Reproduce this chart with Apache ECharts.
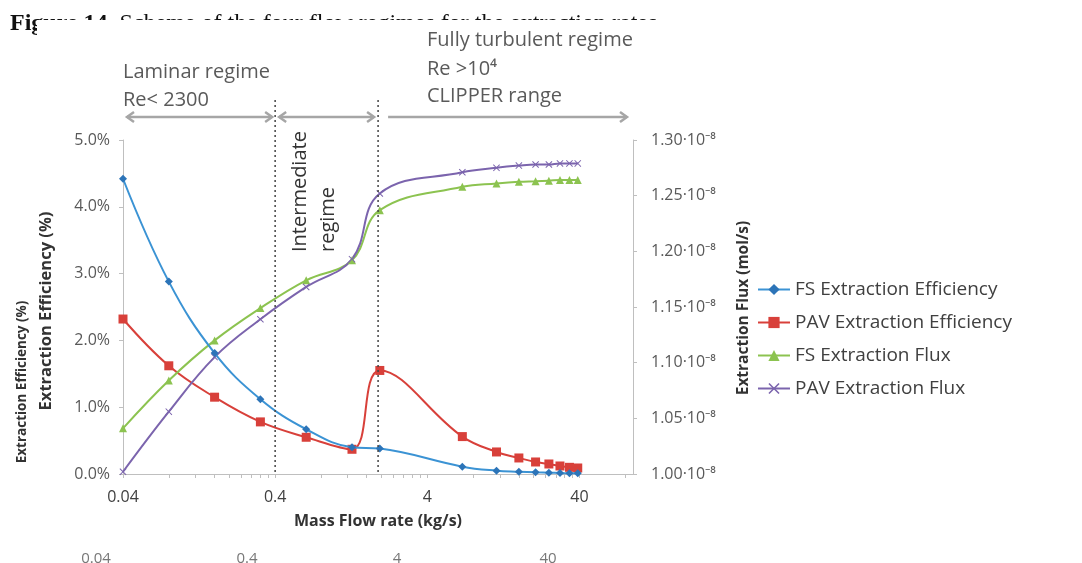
<!DOCTYPE html>
<html>
<head>
<meta charset="utf-8">
<script src="https://cdn.jsdelivr.net/npm/echarts@6/dist/echarts.min.js"></script>
<style>
html, body { margin: 0; padding: 0; background: #fff; }
#chart1 { width: 1082px; height: 563px; }
</style>
</head>
<body>
<div id="chart1"></div>
<script>
// mass flow rate of each point (kg/s)
var massFlow = [0.04, 0.08, 0.16, 0.32, 0.64, 1.28, 1.95, 6.8, 11.4, 16, 20.6, 25.2, 29.8, 34.4, 39];
// extraction efficiency (%)
var fsEff  = [4.42, 2.88, 1.81, 1.12, 0.67, 0.40, 0.38, 0.11, 0.05, 0.035, 0.025, 0.02, 0.015, 0.01, 0.01];
var pavEff = [2.32, 1.62, 1.15, 0.78, 0.55, 0.37, 1.55, 0.56, 0.33, 0.24, 0.18, 0.15, 0.12, 0.10, 0.09];
// extraction flux, in 10^-8 mol/s
var fsFlux  = [1.041, 1.084, 1.120, 1.149, 1.174, 1.192, 1.237, 1.258, 1.261, 1.2625, 1.263, 1.2635, 1.264, 1.264, 1.264];
var pavFlux = [1.002, 1.056, 1.105, 1.139, 1.168, 1.193, 1.252, 1.271, 1.275, 1.277, 1.278, 1.278, 1.279, 1.279, 1.279];

var seriesNames = ['FS Extraction Efficiency', 'PAV Extraction Efficiency', 'FS Extraction Flux', 'PAV Extraction Flux'];

var xTickValues = [0.04, 0.4, 4, 40];
var xTickLabels = ['0.04', '0.4', '4', '40'];
var leftTickLabels = ['0.0%', '1.0%', '2.0%', '3.0%', '4.0%', '5.0%'];
var rightTickLabels = ['1.00·10⁻⁸', '1.05·10⁻⁸', '1.10·10⁻⁸', '1.15·10⁻⁸', '1.20·10⁻⁸', '1.25·10⁻⁸', '1.30·10⁻⁸'];

// axis range and regime borders (kg/s)
var xMin = 0.04, xMax = 90;
var regimeBounds = [0.4, 1.9];

// log axis done by hand: ticks must start at 0.04, not at a power of ten
function toU(m) { return Math.log10(m / xMin); }

var minorTicks = [];
for (var d = 0; d < xTickValues.length; d++) {
    for (var k = 1; k <= 9; k++) {
        var m = xTickValues[d] * k;
        if (m <= xMax) minorTicks.push(toU(m));
    }
}

function pts(vals) {
    var out = [];
    for (var i = 0; i < massFlow.length; i++) out.push([toU(massFlow[i]), vals[i]]);
    return out;
}

var FONT = '"Open Sans", sans-serif';
var crossPath = 'path://M0,1L1,0L5,4L9,0L10,1L6,5L10,9L9,10L5,6L1,10L0,9L4,5Z';

var _chart1 = echarts.init(document.getElementById('chart1'));

var option = {
    backgroundColor: '#fff',
    animation: false,
    grid: { left: 123, right: 449, top: 140, bottom: 89 },
    legend: {
        orient: 'vertical',
        left: 752,
        top: 275,
        itemGap: 14,
        itemWidth: 32,
        itemHeight: 14,
        textStyle: { fontFamily: FONT, fontSize: 19, color: '#404040' },
        data: seriesNames
    },
    xAxis: {
        type: 'value',
        min: 0,
        max: toU(xMax),
        splitLine: { show: false },
        axisLine: { lineStyle: { color: '#bfbfbf' } },
        axisTick: { customValues: minorTicks, length: 4, lineStyle: { color: '#bfbfbf' } },
        axisLabel: {
            customValues: xTickValues.map(toU),
            margin: 15,
            fontFamily: FONT,
            fontSize: 16,
            color: '#404040',
            formatter: function (v) {
                for (var i = 0; i < xTickValues.length; i++) {
                    if (Math.abs(toU(xTickValues[i]) - v) < 1e-6) return xTickLabels[i];
                }
                return '';
            }
        }
    },
    yAxis: [
        {
            type: 'value',
            min: 0, max: 5, interval: 1,
            splitLine: { show: false },
            axisLine: { show: true, lineStyle: { color: '#bfbfbf' } },
            axisTick: { show: true, length: 4, lineStyle: { color: '#bfbfbf' } },
            axisLabel: {
                margin: 13, fontFamily: FONT, fontSize: 16, color: '#595959',
                formatter: function (v, idx) { return leftTickLabels[idx]; }
            }
        },
        {
            type: 'value',
            position: 'right',
            min: 1.0, max: 1.3, interval: 0.05,
            splitLine: { show: false },
            axisLine: { show: true, lineStyle: { color: '#bfbfbf' } },
            axisTick: { show: true, length: 4, lineStyle: { color: '#bfbfbf' } },
            axisLabel: {
                margin: 18, fontFamily: FONT, fontSize: 16, color: '#595959',
                formatter: function (v, idx) { return rightTickLabels[idx]; }
            }
        }
    ],
    series: [
        {
            name: seriesNames[0], type: 'line', smooth: 0.4, yAxisIndex: 0,
            symbol: 'diamond', symbolSize: 8, z: 4,
            itemStyle: { color: '#2c74b8' },
            lineStyle: { color: '#3b93d4', width: 2 },
            data: pts(fsEff)
        },
        {
            name: seriesNames[1], type: 'line', smooth: 0.4, yAxisIndex: 0,
            symbol: 'rect', symbolSize: 9, z: 3,
            itemStyle: { color: '#d8403a' },
            lineStyle: { color: '#d8403a', width: 2 },
            data: pts(pavEff)
        },
        {
            name: seriesNames[2], type: 'line', smooth: 0.4, yAxisIndex: 1,
            symbol: 'triangle', symbolSize: 8,
            itemStyle: { color: '#8cc350' },
            lineStyle: { color: '#8cc350', width: 2 },
            data: pts(fsFlux)
        },
        {
            name: seriesNames[3], type: 'line', smooth: 0.4, yAxisIndex: 1,
            symbol: crossPath, symbolSize: 7,
            itemStyle: { color: '#7b64ad' },
            lineStyle: { color: '#7b64ad', width: 2 },
            data: pts(pavFlux)
        }
    ]
};

_chart1.setOption(option);

// annotations: regime borders, arrows, labels
var g = [];
var xb1 = _chart1.convertToPixel({ xAxisIndex: 0 }, toU(regimeBounds[0]));
var xb2 = _chart1.convertToPixel({ xAxisIndex: 0 }, toU(regimeBounds[1]));
var x0 = _chart1.convertToPixel({ xAxisIndex: 0 }, 0);
var xEnd = _chart1.convertToPixel({ xAxisIndex: 0 }, toU(xMax));
var yBase = _chart1.convertToPixel({ yAxisIndex: 0 }, 0);

[xb1, xb2].forEach(function (px) {
    g.push({ type: 'line', z: 5, shape: { x1: px, y1: 100, x2: px, y2: yBase },
        style: { stroke: '#444', lineWidth: 1.5, lineDash: [2, 3] } });
});

var arrowY = 117;
function arrow(a, b, leftHead, rightHead) {
    var st = { stroke: '#a6a6a6', lineWidth: 2.5, fill: null };
    g.push({ type: 'line', z: 5, shape: { x1: a, y1: arrowY, x2: b, y2: arrowY }, style: st });
    if (leftHead) g.push({ type: 'polyline', z: 5, shape: { points: [[a + 7, arrowY - 5], [a, arrowY], [a + 7, arrowY + 5]] }, style: st });
    if (rightHead) g.push({ type: 'polyline', z: 5, shape: { points: [[b - 7, arrowY - 5], [b, arrowY], [b - 7, arrowY + 5]] }, style: st });
}
arrow(x0 + 4, xb1 - 3, true, true);
arrow(xb1 + 4, xb2 - 4, true, true);
arrow(xb2 + 10, xEnd - 6, false, true);

var annFont = '20px "Open Sans", sans-serif';
function label(text, x, y, fill) {
    g.push({ type: 'text', z: 6, x: x, y: y,
        style: { text: text, font: annFont, fill: fill || '#5a5a5a', align: 'left', verticalAlign: 'middle' } });
}
label('Laminar regime', 123, 72);
label('Re< 2300', 123, 100);
label('Fully turbulent regime', 427, 40);
label('Re >10⁴', 427, 69);
label('CLIPPER range', 427, 96);

g.push({ type: 'text', z: 6, x: 300, y: 252, rotation: Math.PI / 2,
    style: { text: 'Intermediate', font: annFont, fill: '#333', align: 'left', verticalAlign: 'middle' } });
g.push({ type: 'text', z: 6, x: 328, y: 252, rotation: Math.PI / 2,
    style: { text: 'regime', font: annFont, fill: '#333', align: 'left', verticalAlign: 'middle' } });

// axis titles
function title(text, x, y, size, rot) {
    g.push({ type: 'text', z: 6, x: x, y: y, rotation: rot ? Math.PI / 2 : 0,
        style: { text: text, font: 'bold ' + size + 'px "Open Sans", sans-serif', fill: '#333',
            align: 'center', verticalAlign: 'middle' } });
}
title('Extraction Efficiency (%)', 22, 382, 13.5, true);
title('Extraction Efficiency (%)', 46, 311, 16.5, true);
title('Extraction Flux (mol/s)', 744, 308, 15.5, true);
title('Mass Flow rate (kg/s)', 378, 521, 16, false);

// caption of the page, mostly hidden behind the pasted figure
g.push({ type: 'text', z: 1, x: 10, y: 12,
    style: { text: '{b|Figure 14.} Scheme of the four flow regimes for the extraction rates',
        font: '24px "Liberation Serif", serif', fill: '#111', verticalAlign: 'top',
        rich: { b: { fontWeight: 'bold', fontSize: 24, fontFamily: 'Liberation Serif' } } } });
g.push({ type: 'rect', z: 2, shape: { x: 37, y: 20, width: 700, height: 24 }, style: { fill: '#fff' } });

// repeated tick row cut off at the bottom of the page
var bottomX = [96, 247, 397, 548];
for (var i = 0; i < xTickLabels.length; i++) {
    g.push({ type: 'text', z: 6, x: bottomX[i], y: 551,
        style: { text: xTickLabels[i], font: '15px "Open Sans", sans-serif', fill: '#777', align: 'center', verticalAlign: 'top' } });
}

_chart1.setOption({ graphic: g });
</script>
</body>
</html>
